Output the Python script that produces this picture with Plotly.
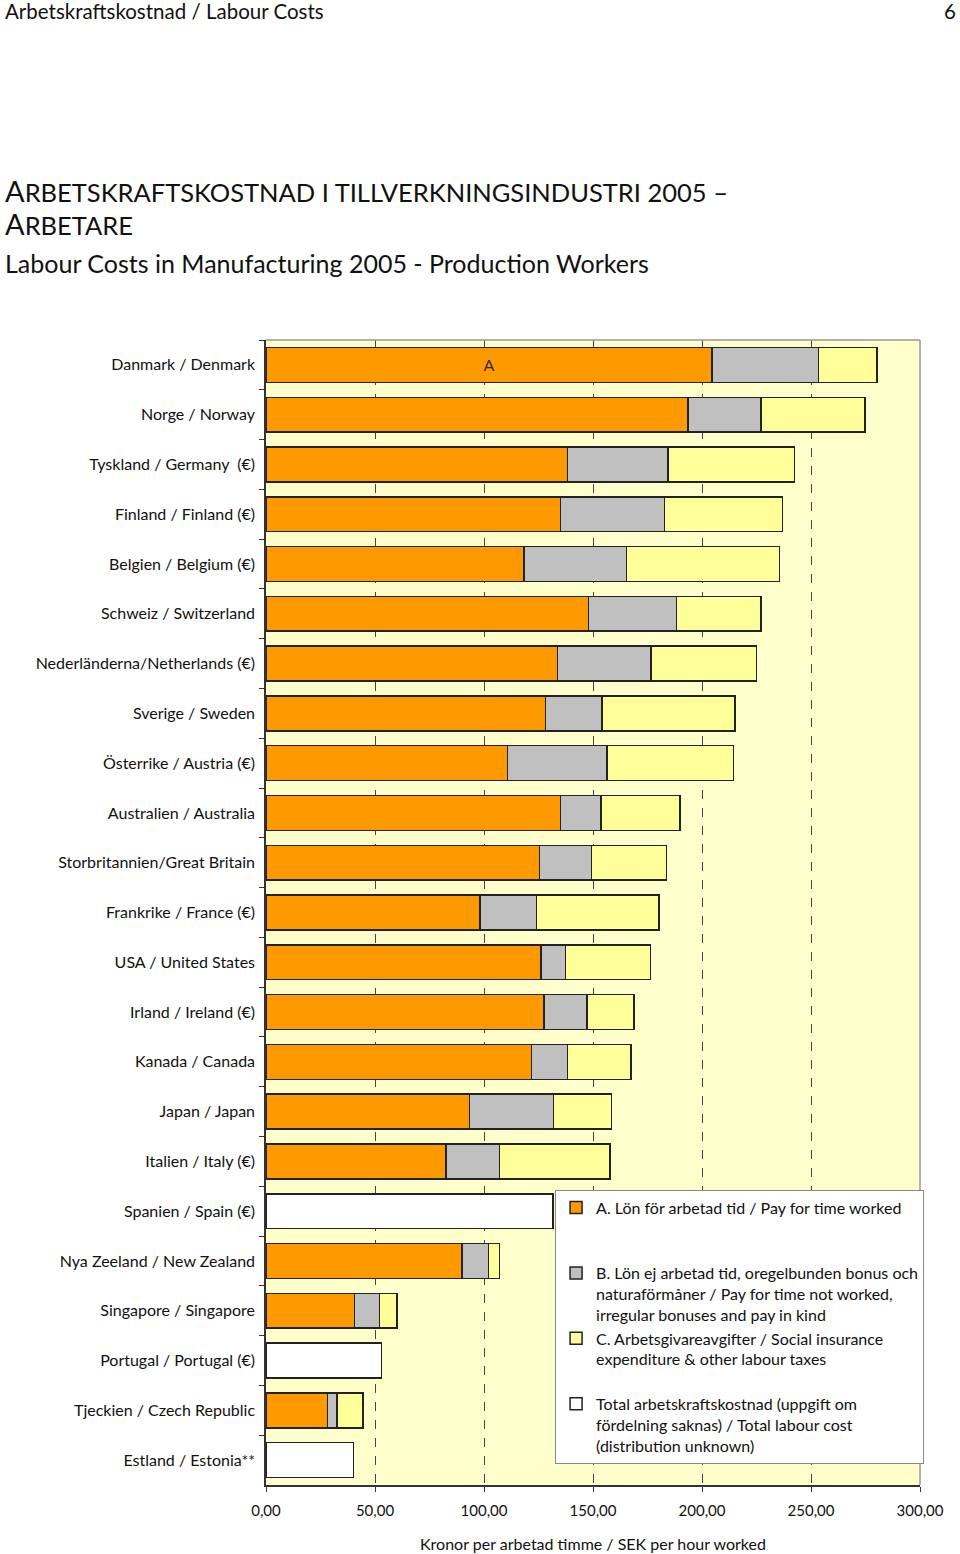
import plotly.graph_objects as go

countries = [
    "Danmark / Denmark", "Norge / Norway", "Tyskland / Germany  (€)", "Finland / Finland (€)",
    "Belgien / Belgium (€)", "Schweiz / Switzerland", "Nederländerna/Netherlands (€)",
    "Sverige / Sweden", "Österrike / Austria (€)", "Australien / Australia",
    "Storbritannien/Great Britain", "Frankrike / France (€)", "USA / United States",
    "Irland / Ireland (€)", "Kanada / Canada", "Japan / Japan", "Italien / Italy (€)",
    "Spanien / Spain (€)", "Nya Zeeland / New Zealand", "Singapore / Singapore",
    "Portugal / Portugal (€)", "Tjeckien / Czech Republic", "Estland / Estonia**",
]

pay_worked = [204.6, 193.5, 138.2, 135.2, 118.4, 147.9, 133.8, 128.3, 110.7, 135.1, 125.4,
              98.1, 126.1, 127.5, 121.9, 93.4, 82.6, None, 90.0, 40.7, None, 28.1, None]
pay_not_worked = [48.9, 33.6, 46.2, 47.6, 46.9, 40.5, 42.8, 25.9, 45.7, 18.5, 23.9,
                  25.9, 11.2, 19.7, 16.3, 38.4, 24.5, None, 12.1, 11.4, None, 4.4, None]
social_ins = [26.8, 47.6, 58.0, 54.1, 70.2, 38.7, 48.4, 60.9, 58.1, 36.4, 34.4,
              56.2, 39.1, 21.6, 29.2, 26.7, 50.6, None, 5.0, 8.0, None, 12.0, None]
total_unknown = [None] * 17 + [131.6, None, None, 52.9, None, 40.1]

bar_labels = ["A"] + [""] * 22

tick_vals = [0, 50, 100, 150, 200, 250, 300]
tick_text = ["0,00", "50,00", "100,00", "150,00", "200,00", "250,00", "300,00"]

FONT = "Lato"
OUTLINE = dict(color="#222222", width=1.5)

fig = go.Figure()
fig.add_trace(go.Bar(
    y=countries, x=pay_worked, orientation="h",
    name="A. Lön för arbetad tid / Pay for time worked<br> <br> ",
    marker=dict(color="#FF9900", line=OUTLINE),
    text=bar_labels, textposition="inside", insidetextanchor="middle",
    textfont=dict(family=FONT, size=16, color="#3a2a10"),
))
fig.add_trace(go.Bar(
    y=countries, x=pay_not_worked, orientation="h",
    name="B. Lön ej arbetad tid, oregelbunden bonus och<br>naturaförmåner / Pay for time not worked,<br>irregular bonuses and pay in kind",
    marker=dict(color="#C0C0C0", line=OUTLINE),
))
fig.add_trace(go.Bar(
    y=countries, x=social_ins, orientation="h",
    name="C. Arbetsgivareavgifter / Social insurance<br>expenditure & other labour taxes<br> ",
    marker=dict(color="#FFFF99", line=OUTLINE),
))
fig.add_trace(go.Bar(
    y=countries, x=total_unknown, orientation="h",
    name="Total arbetskraftskostnad (uppgift om<br>fördelning saknas) / Total labour cost<br>(distribution unknown)",
    marker=dict(color="#FFFFFF", line=OUTLINE),
))

fig.update_layout(
    width=960, height=1554,
    margin=dict(l=266, r=40, t=340, b=69),
    barmode="stack", bargap=0.3,
    paper_bgcolor="white", plot_bgcolor="#FFFFCC",
    font=dict(family=FONT, size=16, color="#111111"),
    showlegend=True,
    legend=dict(
        x=0.442, y=0.258, xanchor="left", yanchor="top",
        bgcolor="white", bordercolor="#888888", borderwidth=1,
        traceorder="normal", valign="top",
        font=dict(family=FONT, size=16, color="#111111"),
    ),
    xaxis=dict(
        range=[0, 300], tickvals=tick_vals, ticktext=tick_text,
        showgrid=True, gridcolor="#444444", griddash="dash", gridwidth=1,
        showline=True, linecolor="#333333", linewidth=1.5,
        ticks="outside", ticklen=5, tickcolor="#333333",
        tickfont=dict(family=FONT, size=15, color="#111111"),
        ticklabelstandoff=6, zeroline=False, fixedrange=True,
    ),
    yaxis=dict(
        type="category", autorange="reversed",
        showline=True, linecolor="#333333", linewidth=1.5,
        ticks="outside", ticklen=5, tickcolor="#333333", tickson="boundaries",
        tickfont=dict(family=FONT, size=16, color="#111111"),
        ticklabelstandoff=6, showgrid=False, fixedrange=True,
    ),
    shapes=[
        dict(type="line", xref="paper", yref="paper", x0=0, x1=1, y0=1, y1=1,
             line=dict(color="#999999", width=1.5)),
        dict(type="line", xref="paper", yref="paper", x0=1, x1=1, y0=0, y1=1,
             line=dict(color="#999999", width=1.5)),
    ],
)

BIG = "font-size:29px"
annotations = [
    dict(text="Arbetskraftskostnad / Labour Costs", x=-0.4021, y=1.2873,
         xanchor="left", yanchor="middle", font=dict(size=20.5, color="#111111")),
    dict(text="6", x=1.058, y=1.2873, xanchor="right", yanchor="middle",
         font=dict(size=20.5, color="#111111")),
    dict(text=(f"<span style='{BIG}'>A</span>RBETSKRAFTSKOSTNAD I TILLVERKNINGSINDUSTRI 2005 –"
               f"<br><span style='{BIG}'>A</span>RBETARE"),
         x=-0.4021, y=1.1165, xanchor="left", yanchor="middle",
         font=dict(size=25.5, color="#111111")),
    dict(text="Labour Costs in Manufacturing 2005 - Production Workers",
         x=-0.4021, y=1.0672, xanchor="left", yanchor="middle",
         font=dict(size=25, color="#111111")),
    dict(text="Kronor per arbetad timme / SEK per hour worked",
         x=0.5, y=-0.0507, xanchor="center", yanchor="middle",
         font=dict(size=16, color="#111111")),
]
for a in annotations:
    a.update(xref="paper", yref="paper", showarrow=False, align="left")
fig.update_layout(annotations=annotations)

fig.write_html("out.html", config={"displayModeBar": False},
               post_script="document.body.style.margin='0';")
